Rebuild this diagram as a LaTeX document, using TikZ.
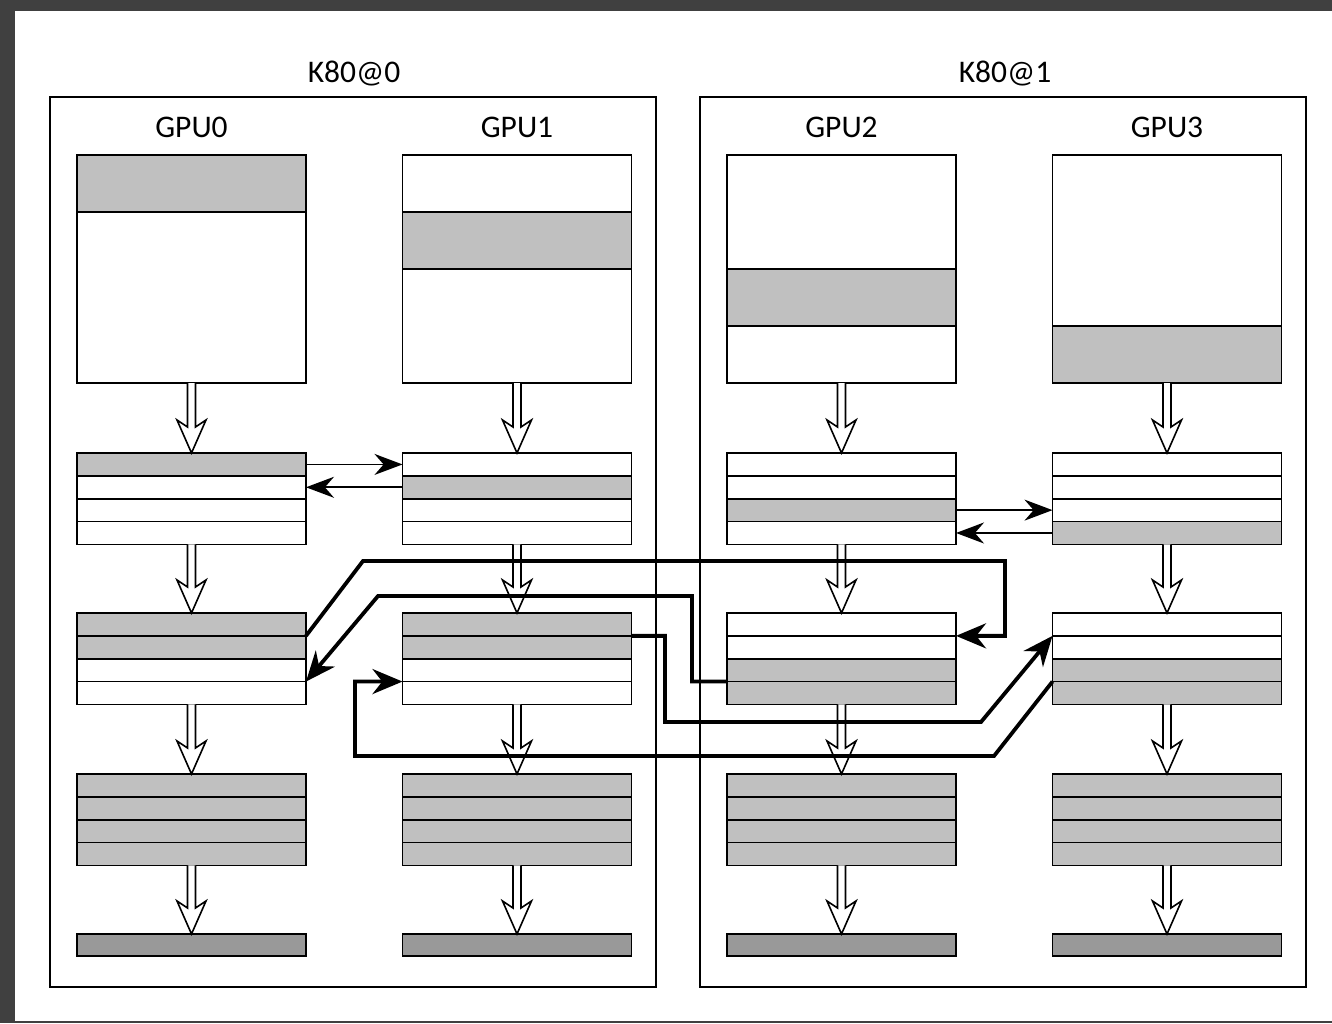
\documentclass[tikz,border=0pt]{standalone}
\usepackage{fontspec}
\setmainfont{Carlito}
\usetikzlibrary{arrows.meta,calc,fit}
\definecolor{lg}{HTML}{C0C0C0}
\definecolor{dg}{HTML}{999999}
\definecolor{bgd}{HTML}{404040}
\newcommand{\stackblock}[7]{%
  \node[strip, fill=#4, anchor=north west] (#1s1) at (#2,#3) {};
  \node[strip, fill=#5, anchor=north] (#1s2) at (#1s1.south) {};
  \node[strip, fill=#6, anchor=north] (#1s3) at (#1s2.south) {};
  \node[strip, fill=#7, anchor=north] (#1s4) at (#1s3.south) {};
  \node[fit=(#1s1)(#1s4), inner sep=0pt, outer sep=0pt] (#1) {};
}
\newcommand{\harrow}[2]{%
  \filldraw[hollow] ($(#1.south)+(-4,0)$) -- ($(#2.north)+(-4,-26)$) -- ($(#2.north)+(-14.5,-33)$) -- (#2.north) -- ($(#2.north)+(14.5,-33)$) -- ($(#2.north)+(4,-26)$) -- ($(#1.south)+(4,0)$);
}
\begin{document}
\begin{tikzpicture}[x=1pt,y=-1pt,
  strip/.style={draw=black, line width=1.8pt, minimum width=229pt, minimum height=22.85pt, inner sep=0pt, outer sep=0pt, fill=white},
  bigbox/.style={draw=black, line width=1.8pt, minimum width=229pt, minimum height=228pt, inner sep=0pt, outer sep=0pt, fill=white},
  band/.style={draw=black, line width=1.8pt, minimum width=229pt, minimum height=57pt, inner sep=0pt, outer sep=0pt, fill=lg},
  bar/.style={draw=black, line width=1.8pt, minimum width=229pt, minimum height=22pt, inner sep=0pt, outer sep=0pt, fill=dg},
  container/.style={draw=black, line width=1.8pt, minimum width=606pt, minimum height=890pt, inner sep=0pt, outer sep=0pt},
  lbl/.style={font=\fontsize{31.5}{38}\selectfont, inner sep=0pt, anchor=base},
  hollow/.style={draw=black, line width=1.6pt, fill=white},
  thin/.style={draw=black, line width=1.8pt, -{Stealth[length=28pt, width=21pt]}},
  thick/.style={draw=black, line width=3.8pt, -{Stealth[length=30pt, width=25pt]}}
]
\useasboundingbox (0,0) rectangle (1332,1023);
\fill[bgd] (0,0) rectangle (1332,1023);
\fill[white] (15,11) rectangle (1332,1021);

% containers
\node[container, anchor=north west] (k0) at (50,97) {};
\node[container, anchor=north west] (k1) at (700,97) {};
\node[lbl] (k0lbl) at (354,82) {K80@0};
\node[lbl] (k1lbl) at (1005,82) {K80@1};
\node[lbl] (gpu0) at (191.5,137) {GPU0};
\node[lbl] (gpu1) at (517,137) {GPU1};
\node[lbl] (gpu2) at (841.5,137) {GPU2};
\node[lbl] (gpu3) at (1167,137) {GPU3};

% row 0
\node[bigbox, anchor=north west] (g0r0) at (77,155) {};
\node[bigbox, anchor=north west] (g1r0) at (402.5,155) {};
\node[bigbox, anchor=north west] (g2r0) at (727,155) {};
\node[bigbox, anchor=north west] (g3r0) at (1052.5,155) {};
\node[band, anchor=north west] (g0b) at (g0r0.north west) {};
\node[band, anchor=north west] (g1b) at ($(g1r0.north west)+(0,57)$) {};
\node[band, anchor=north west] (g2b) at ($(g2r0.north west)+(0,114)$) {};
\node[band, anchor=north west] (g3b) at ($(g3r0.north west)+(0,171)$) {};
\draw[line width=1.8pt] (g0r0.north west) rectangle (g0r0.south east);
\draw[line width=1.8pt] (g1r0.north west) rectangle (g1r0.south east);
\draw[line width=1.8pt] (g2r0.north west) rectangle (g2r0.south east);
\draw[line width=1.8pt] (g3r0.north west) rectangle (g3r0.south east);

% row 1
\stackblock{g0r1}{77}{453}{lg}{white}{white}{white}
\stackblock{g1r1}{402.5}{453}{white}{lg}{white}{white}
\stackblock{g2r1}{727}{453}{white}{white}{lg}{white}
\stackblock{g3r1}{1052.5}{453}{white}{white}{white}{lg}
% row 2
\stackblock{g0r2}{77}{613}{lg}{lg}{white}{white}
\stackblock{g1r2}{402.5}{613}{lg}{lg}{white}{white}
\stackblock{g2r2}{727}{613}{white}{white}{lg}{lg}
\stackblock{g3r2}{1052.5}{613}{white}{white}{lg}{lg}
% row 3
\stackblock{g0r3}{77}{774}{lg}{lg}{lg}{lg}
\stackblock{g1r3}{402.5}{774}{lg}{lg}{lg}{lg}
\stackblock{g2r3}{727}{774}{lg}{lg}{lg}{lg}
\stackblock{g3r3}{1052.5}{774}{lg}{lg}{lg}{lg}
% row 4
\node[bar, anchor=north west] (g0r4) at (77,934) {};
\node[bar, anchor=north west] (g1r4) at (402.5,934) {};
\node[bar, anchor=north west] (g2r4) at (727,934) {};
\node[bar, anchor=north west] (g3r4) at (1052.5,934) {};

% hollow arrows
\foreach \g in {0,1,2,3}{
  \harrow{g\g r0}{g\g r1}
  \harrow{g\g r1}{g\g r2}
  \harrow{g\g r2}{g\g r3}
  \harrow{g\g r3}{g\g r4}
}

% thin exchanges
\draw[thin] (g0r1s1.east) -- (g1r1s1.west);
\draw[thin] (g1r1s2.west) -- (g0r1s2.east);
\draw[thin] (g2r1s3.east) -- (g3r1s3.west);
\draw[thin] (g3r1s4.west) -- (g2r1s4.east);

% thick exchanges
\draw[thick] (g0r2s1.south east) -- (363,561) -- (1005,561) |- (g2r2s1.south east);
\draw[thick] (g2r2s3.south west) -| (692,596) -- (378,596) -- (g0r2s3.south east);
\draw[thick] (g1r2s1.south east) -| (665,722) -- (981,722) -- (g3r2s1.south west);
\draw[thick] (g3r2s3.south west) -- (994,756) -- (355,756) |- (g1r2s3.south west);
\end{tikzpicture}
\end{document}
